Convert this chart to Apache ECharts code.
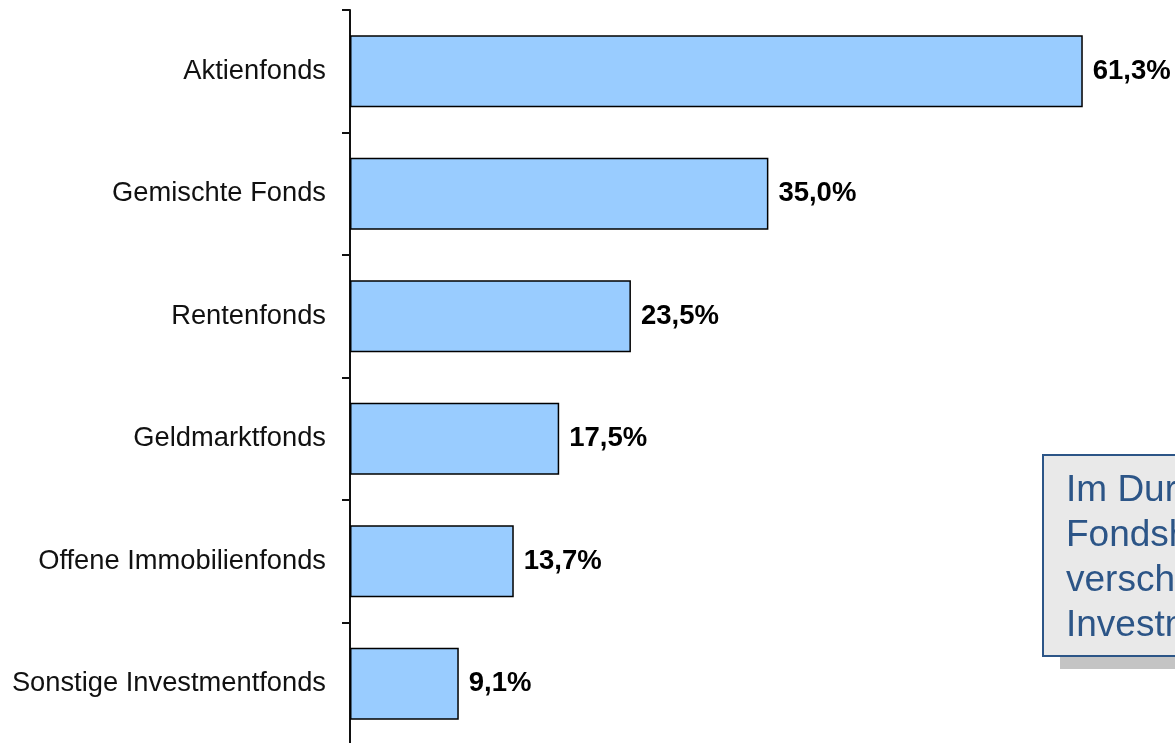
<!DOCTYPE html>
<html>
<head>
<meta charset="utf-8">
<script src="https://cdn.jsdelivr.net/npm/echarts@6/dist/echarts.min.js"></script>
<style>
  html, body { margin: 0; padding: 0; background: #fff; }
  #chart { width: 1175px; height: 743px; }
</style>
</head>
<body>
<div id="chart"></div>
<script>
const categories = [
  "Aktienfonds",
  "Gemischte Fonds",
  "Rentenfonds",
  "Geldmarktfonds",
  "Offene Immobilienfonds",
  "Sonstige Investmentfonds",
];
const shares = [61.3, 35.0, 23.5, 17.5, 13.7, 9.1];
const boxLines = ["Im Durchschnitt", "Fondshaushalte", "verschiedene", "Investmentfonds"];

const font = "'Liberation Sans', Arial, sans-serif";
const chart = echarts.init(document.getElementById("chart"));

const option = {
  animation: false,
  grid: {
    left: 350,
    top: 10,
    width: 777,
    height: 735,
    outerBoundsMode: "none",
  },
  xAxis: {
    type: "value",
    min: 0,
    max: 65,
    show: false,
  },
  yAxis: {
    type: "category",
    data: categories,
    inverse: true,
    axisLine: {
      show: true,
      lineStyle: { color: "#111", width: 2 },
    },
    axisTick: {
      show: true,
      inside: false,
      alignWithLabel: false,
      length: 8,
      lineStyle: { color: "#111", width: 2 },
    },
    axisLabel: {
      margin: 24,
      color: "#111",
      fontSize: 27.3,
      fontFamily: font,
    },
    splitLine: { show: false },
  },
  series: [
    {
      type: "bar",
      data: shares,
      barWidth: 72,
      itemStyle: {
        color: "#99CCFF",
        borderColor: "#000",
        borderWidth: 1.5,
      },
      label: {
        show: true,
        position: "right",
        distance: 10,
        color: "#000",
        fontSize: 27.5,
        fontWeight: "bold",
        fontFamily: font,
        formatter: (p) => p.value.toFixed(1).replace(".", ",") + "%",
      },
    },
  ],
  graphic: [
    // shadow under the note box
    {
      type: "rect",
      shape: { x: 1060, y: 657, width: 200, height: 12 },
      style: { fill: "#C4C4C4" },
      silent: true,
    },
    {
      type: "rect",
      shape: { x: 1043, y: 455, width: 200, height: 201 },
      style: { fill: "#E9E9E9", stroke: "#2C5587", lineWidth: 2 },
      silent: true,
    },
    {
      type: "text",
      left: 1066,
      top: 468,
      style: {
        text: boxLines.join("\n"),
        fill: "#2C5587",
        fontSize: 37,
        lineHeight: 45,
        fontFamily: font,
      },
      silent: true,
    },
  ],
};
chart.setOption(option);
</script>
</body>
</html>
